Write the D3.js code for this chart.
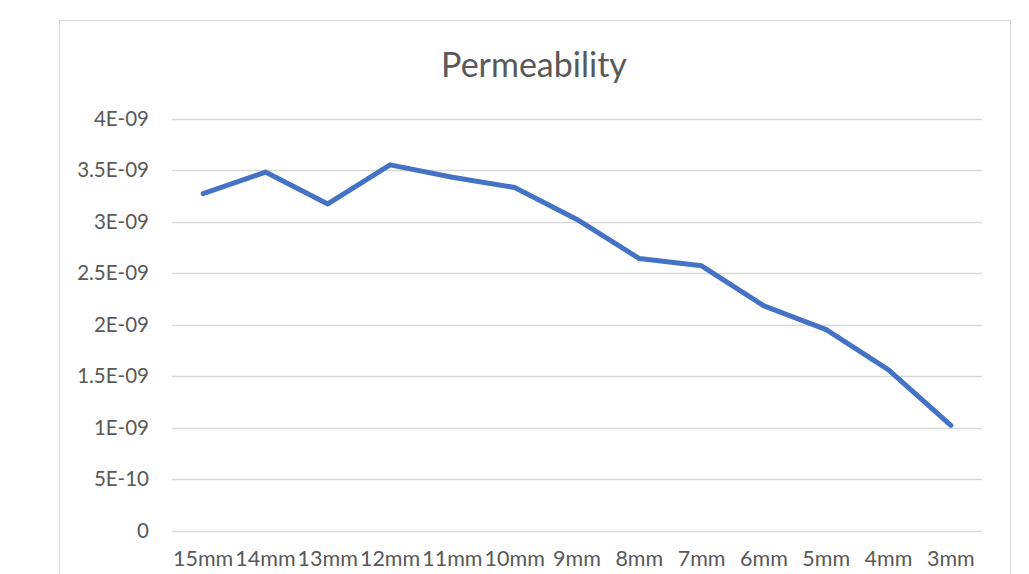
<!DOCTYPE html>
<html>
<head>
<meta charset="utf-8">
<script src="https://cdn.jsdelivr.net/npm/d3@7"></script>
<style>
  html, body { margin: 0; padding: 0; background: #fff; }
  svg { display: block; }
</style>
</head>
<body>
<svg id="chart" width="1029" height="574"></svg>
<script>
// Sample sizes along the horizontal axis
const categories = ["15mm", "14mm", "13mm", "12mm", "11mm", "10mm", "9mm", "8mm", "7mm", "6mm", "5mm", "4mm", "3mm"];
// Permeability measured at each size
const permeability = [3.27e-9, 3.48e-9, 3.17e-9, 3.55e-9, 3.43e-9, 3.33e-9, 3.02e-9, 2.64e-9, 2.57e-9, 2.18e-9, 1.95e-9, 1.56e-9, 1.02e-9];
// Value-axis ticks and their labels
const yTicks = [0, 5e-10, 1e-9, 1.5e-9, 2e-9, 2.5e-9, 3e-9, 3.5e-9, 4e-9];
const yTickLabels = ["0", "5E-10", "1E-09", "1.5E-09", "2E-09", "2.5E-09", "3E-09", "3.5E-09", "4E-09"];
const chartTitle = "Permeability";

const svg = d3.select("#chart");
const font = "Lato, 'Open Sans', sans-serif";

// Plot area
const plot = { left: 172, right: 982, top: 118.5, bottom: 530.5 };

// Chart frame
svg.append("rect")
  .attr("x", 59.5).attr("y", 20.5)
  .attr("width", 951).attr("height", 600)
  .attr("fill", "#fff")
  .attr("stroke", "#d9d9d9").attr("stroke-width", 1);

const x = d3.scaleBand().domain(categories).range([plot.left, plot.right]).padding(0);
const y = d3.scaleLinear().domain([0, 4e-9]).range([plot.bottom, plot.top]);

// Horizontal gridlines
svg.append("g")
  .selectAll("line")
  .data(yTicks)
  .join("line")
  .attr("x1", plot.left).attr("x2", plot.right)
  .attr("y1", d => Math.round(y(d)) + 0.5).attr("y2", d => Math.round(y(d)) + 0.5)
  .attr("stroke", "#d9d9d9").attr("stroke-width", 1.3);

// Value axis labels
const yAxis = d3.axisLeft(y)
  .tickValues(yTicks)
  .tickFormat((d, i) => yTickLabels[i])
  .tickSize(0).tickPadding(0);
const gy = svg.append("g").attr("transform", `translate(149,0)`).call(yAxis);
gy.select(".domain").remove();
gy.selectAll("text")
  .attr("fill", "#595959")
  .style("font-family", font)
  .style("font-size", "20.5px");

// Category axis labels
const xAxis = d3.axisBottom(x).tickSize(0).tickPadding(0);
const gx = svg.append("g").attr("transform", `translate(0,${plot.bottom + 20})`).call(xAxis);
gx.select(".domain").remove();
gx.selectAll("text")
  .attr("fill", "#595959")
  .style("font-family", font)
  .style("font-size", "21.5px");

// Data line
const line = d3.line()
  .x((d, i) => x(categories[i]) + x.bandwidth() / 2)
  .y(d => y(d));

svg.append("path")
  .datum(permeability)
  .attr("d", line)
  .attr("fill", "none")
  .attr("stroke", "#4472c4")
  .attr("stroke-width", 5)
  .attr("stroke-linejoin", "round")
  .attr("stroke-linecap", "round");

// Title
svg.append("text")
  .attr("x", 534).attr("y", 77)
  .attr("text-anchor", "middle")
  .attr("fill", "#595959")
  .style("font-family", font)
  .style("font-size", "34px")
  .text(chartTitle);
</script>
</body>
</html>
